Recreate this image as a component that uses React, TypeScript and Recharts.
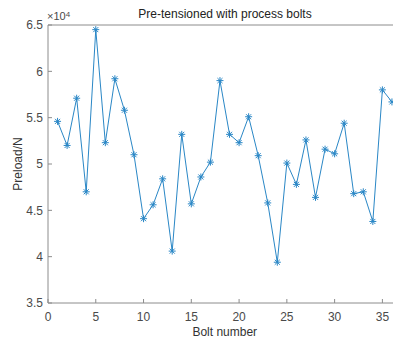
import React from 'react';
import { LineChart, Line, XAxis, YAxis } from 'recharts';

const boltNumbers = [1, 2, 3, 4, 5, 6, 7, 8, 9, 10, 11, 12, 13, 14, 15, 16, 17, 18, 19, 20, 21, 22, 23, 24, 25, 26, 27, 28, 29, 30, 31, 32, 33, 34, 35, 36];
const preload = [54600, 52000, 57100, 47000, 64500, 52300, 59200, 55800, 51000, 44100, 45600, 48400, 40600, 53200, 45700, 48600, 50200, 59000, 53200, 52300, 55100, 50900, 45800, 39400, 50100, 47800, 52600, 46400, 51600, 51100, 54400, 46800, 47000, 43800, 58000, 56700];
const xTicks = [0, 5, 10, 15, 20, 25, 30, 35];
const yTicks = [35000, 40000, 45000, 50000, 55000, 60000, 65000];

const data = boltNumbers.map((x, i) => ({ x, y: preload[i] }));

const LINE = '#2a87c6';
const AXIS = '#8c8c8c';
const TEXT = '#4a4a4a';
const FONT = '"Liberation Sans", Arial, sans-serif';

const Asterisk = (props: any) => {
  const { cx, cy, index } = props;
  if (cx == null || cy == null) return <g key={index} />;
  const r = 3.5;
  const d = r * 0.72;
  return (
    <g key={index} stroke={LINE} strokeWidth={1}>
      <line x1={cx - r} y1={cy} x2={cx + r} y2={cy} />
      <line x1={cx} y1={cy - r} x2={cx} y2={cy + r} />
      <line x1={cx - d} y1={cy - d} x2={cx + d} y2={cy + d} />
      <line x1={cx - d} y1={cy + d} x2={cx + d} y2={cy - d} />
    </g>
  );
};

export default function App() {
  return (
    <div style={{ position: 'absolute', left: 0, top: 0, width: 393, height: 340, overflow: 'hidden', background: '#fff', fontFamily: FONT }}>
      <LineChart width={420} height={340} data={data} margin={{ top: 24, right: 18.5, bottom: 0, left: 0 }}>
        <XAxis
          xAxisId="top"
          orientation="top"
          type="number"
          dataKey="x"
          domain={[0, 37]}
          ticks={xTicks}
          height={1}
          tick={false}
          tickSize={-4}
          axisLine={{ stroke: AXIS }}
          tickLine={{ stroke: AXIS }}
          allowDataOverflow
        />
        <XAxis
          type="number"
          dataKey="x"
          domain={[0, 37]}
          ticks={xTicks}
          height={37}
          tickSize={-4}
          tickMargin={13.5}
          axisLine={{ stroke: AXIS }}
          tickLine={{ stroke: AXIS }}
          tick={{ fill: TEXT, fontSize: 12, fontFamily: FONT }}
          allowDataOverflow
          label={{ value: 'Bolt number', position: 'insideBottom', offset: 4, fill: '#333', fontSize: 12, fontFamily: FONT }}
        />
        <YAxis
          type="number"
          domain={[35000, 65000]}
          ticks={yTicks}
          width={48}
          tickSize={-4}
          tickMargin={9}
          tickFormatter={(v: number) => String(v / 10000)}
          axisLine={{ stroke: AXIS }}
          tickLine={{ stroke: AXIS }}
          tick={{ fill: TEXT, fontSize: 12, fontFamily: FONT }}
          allowDataOverflow
          label={{ value: 'Preload/N', position: 'insideLeft', angle: -90, offset: 17.7, fill: '#333', fontSize: 12, fontFamily: FONT, style: { textAnchor: 'middle' } }}
        />
        <Line
          type="linear"
          dataKey="y"
          stroke={LINE}
          strokeWidth={1}
          dot={Asterisk}
          activeDot={false}
          isAnimationActive={false}
        />
      </LineChart>
      <div style={{ position: 'absolute', left: 0, top: 7, width: 450, textAlign: 'center', fontSize: 12, lineHeight: '14px', color: '#222' }}>
        Pre-tensioned with process bolts
      </div>
      <div style={{ position: 'absolute', left: 47, top: 10, fontSize: 11, lineHeight: '13px', color: TEXT }}>
        ×10<sup style={{ fontSize: 8, verticalAlign: 'top', position: 'relative', top: -2 }}>4</sup>
      </div>
    </div>
  );
}
